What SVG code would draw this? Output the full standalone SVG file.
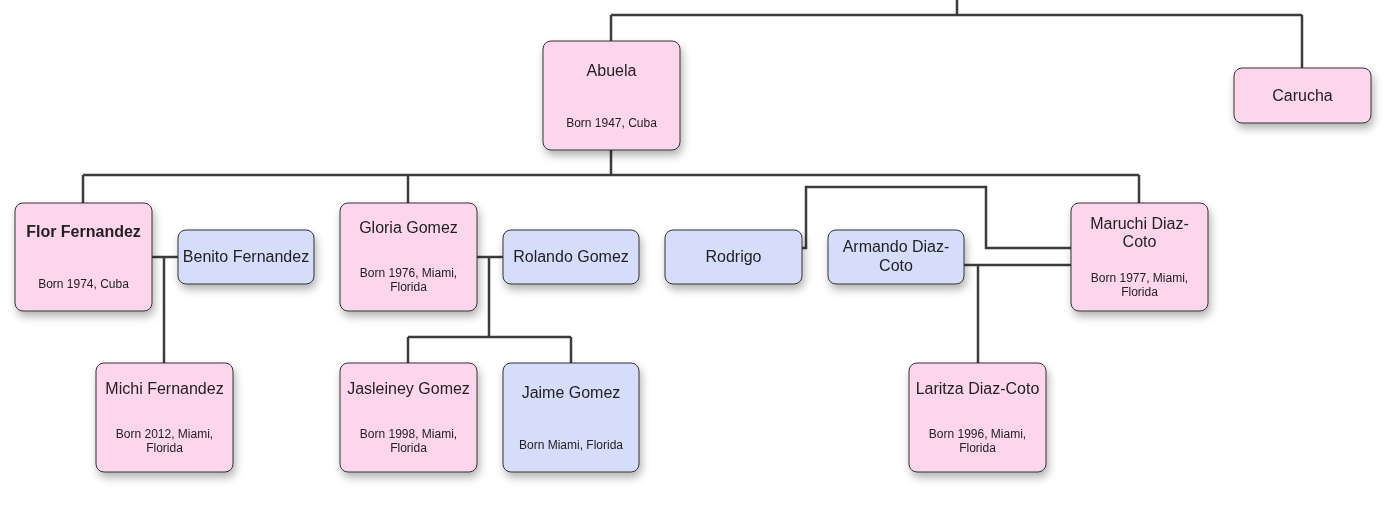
<svg xmlns="http://www.w3.org/2000/svg" width="1392" height="526" viewBox="0 0 1392 526">
<style>
.f{fill:#fdd6ee;stroke:#333;stroke-width:1}
.m{fill:#d6ddfb;stroke:#333;stroke-width:1}
.n{font-family:"Liberation Sans",Arial,sans-serif;font-size:16px;fill:#222;text-anchor:middle}
.b{font-family:"Liberation Sans",Arial,sans-serif;font-size:12px;fill:#222;text-anchor:middle}
.c{fill:none;stroke:#3c3c3c;stroke-width:2.5}
</style>
<defs>
<filter id="sh" x="-20%" y="-20%" width="150%" height="150%">
<feDropShadow dx="2" dy="5" stdDeviation="4" flood-color="#000" flood-opacity="0.3"/>
</filter>
</defs>
<rect width="1392" height="526" fill="#fff"/>
<g id="connectors">
<path class="c" d="M957 0V15M611 15H1302M611 15V41M1302 15V68"/>
<path class="c" d="M611 150V175M83 175H1139M83 175V203M408 175V203M1139 175V203"/>
<path class="c" d="M152 257H178M164 257V363"/>
<path class="c" d="M477 257H503M489 257V337M408 337H571M408 337V363M571 337V363"/>
<path class="c" d="M802 248H806V187H986V248H1071"/>
<path class="c" d="M964 265H1071M978 265V363"/>
</g>
<g filter="url(#sh)">
<g id="abuela"><rect class="f" x="543" y="41" width="137" height="109" rx="8"/><text class="n" x="611.5" y="76">Abuela</text><text class="b" x="611.5" y="127">Born 1947, Cuba</text></g>
<g id="carucha"><rect class="f" x="1234" y="68" width="137" height="55" rx="8"/><text class="n" x="1302.5" y="101">Carucha</text></g>
<g id="flor"><rect class="f" x="15" y="203" width="137" height="108" rx="8"/><text class="n" x="83.5" y="237" font-weight="bold">Flor Fernandez</text><text class="b" x="83.5" y="288">Born 1974, Cuba</text></g>
<g id="benito"><rect class="m" x="178" y="230" width="136" height="54" rx="8"/><text class="n" x="246" y="262">Benito Fernandez</text></g>
<g id="gloria"><rect class="f" x="340" y="203" width="137" height="108" rx="8"/><text class="n" x="408.5" y="233">Gloria Gomez</text><text class="b" x="408.5" y="277">Born 1976, Miami,</text><text class="b" x="408.5" y="291">Florida</text></g>
<g id="rolando"><rect class="m" x="503" y="230" width="136" height="54" rx="8"/><text class="n" x="571" y="262">Rolando Gomez</text></g>
<g id="rodrigo"><rect class="m" x="665" y="230" width="137" height="54" rx="8"/><text class="n" x="733.5" y="262">Rodrigo</text></g>
<g id="armando"><rect class="m" x="828" y="230" width="136" height="54" rx="8"/><text class="n" x="896" y="252">Armando Diaz-</text><text class="n" x="896" y="271">Coto</text></g>
<g id="maruchi"><rect class="f" x="1071" y="203" width="137" height="108" rx="8"/><text class="n" x="1139.5" y="229">Maruchi Diaz-</text><text class="n" x="1139.5" y="247">Coto</text><text class="b" x="1139.5" y="282">Born 1977, Miami,</text><text class="b" x="1139.5" y="296">Florida</text></g>
<g id="michi"><rect class="f" x="96" y="363" width="137" height="109" rx="8"/><text class="n" x="164.5" y="394">Michi Fernandez</text><text class="b" x="164.5" y="438">Born 2012, Miami,</text><text class="b" x="164.5" y="452">Florida</text></g>
<g id="jasleiney"><rect class="f" x="340" y="363" width="137" height="109" rx="8"/><text class="n" x="408.5" y="394">Jasleiney Gomez</text><text class="b" x="408.5" y="438">Born 1998, Miami,</text><text class="b" x="408.5" y="452">Florida</text></g>
<g id="jaime"><rect class="m" x="503" y="363" width="136" height="109" rx="8"/><text class="n" x="571" y="398">Jaime Gomez</text><text class="b" x="571" y="449">Born Miami, Florida</text></g>
<g id="laritza"><rect class="f" x="909" y="363" width="137" height="109" rx="8"/><text class="n" x="977.5" y="394">Laritza Diaz-Coto</text><text class="b" x="977.5" y="438">Born 1996, Miami,</text><text class="b" x="977.5" y="452">Florida</text></g>
</g>
</svg>
